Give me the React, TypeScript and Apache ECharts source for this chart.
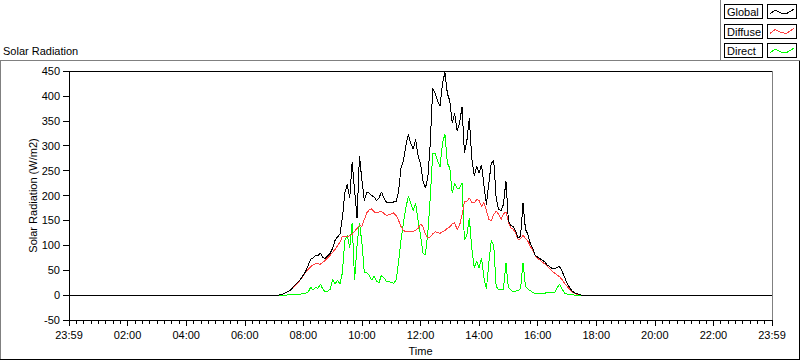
import React, { useEffect, useRef } from "react";
import * as echarts from "echarts";

const FONT = "'Liberation Sans', Arial, sans-serif";

// time axis: minutes after 23:59 of the previous day (0 = 23:59, 1440 = 23:59)
const xTickLabels = ["23:59", "02:00", "04:00", "06:00", "08:00", "10:00", "12:00", "14:00", "16:00", "18:00", "20:00", "22:00", "23:59"];
const START_MIN = 420; // 07:00
const STEP_MIN = 5;

// W/m2, every 5 minutes from 07:00 to 18:00
const globalValues = [
  0, 0, 0, 1, 3, 5, 8, 11, 17, 22, 27, 33,
  40, 48, 60, 72, 75, 80, 79, 85, 75, 74, 79, 84,
  94, 110, 117, 122, 155, 205, 222, 195, 268, 210, 155, 280,
  230, 190, 207, 205, 200, 197, 190, 195, 207, 195, 187, 186,
  185, 187, 188, 207, 255, 270, 300, 323, 305, 293, 313, 280,
  265, 230, 215, 235, 305, 415, 405, 390, 380, 425, 447, 405,
  390, 345, 365, 330, 345, 378, 285, 310, 355, 275, 240, 258,
  245, 262, 220, 182, 225, 265, 270, 195, 172, 170, 182, 230,
  150, 140, 137, 128, 115, 118, 185, 132, 122, 103, 94, 80,
  76, 73, 70, 66, 60, 57, 53, 53, 56, 57, 48, 36,
  24, 16, 9, 5, 3, 1, 0, 0, 0, 0, 0, 0, 0,
];

const diffuseValues = [
  0, 0, 0, 1, 3, 5, 8, 11, 16, 21, 26, 32,
  39, 46, 52, 57, 61, 63, 63, 62, 66, 70, 75, 80,
  86, 92, 99, 106, 118, 118, 117, 119, 122, 128, 134, 140,
  138, 152, 165, 171, 173, 167, 166, 167, 168, 164, 160, 161,
  163, 165, 160, 150, 138, 130, 127, 127, 127, 128, 130, 134,
  143, 138, 122, 115, 117, 123, 127, 126, 124, 127, 130, 134,
  137, 143, 145, 132, 140, 160, 188, 188, 195, 186, 185, 192,
  190, 178, 186, 170, 152, 150, 162, 168, 163, 152, 163, 167,
  147, 135, 132, 124, 112, 113, 120, 114, 108, 98, 90, 79,
  74, 70, 66, 62, 57, 53, 48, 44, 40, 37, 31, 24,
  18, 12, 7, 4, 2, 1, 0, 0, 0, 0, 0, 0, 0,
];

const directValues = [
  0, 0, 0, 0, 0, 0, 1, 1, 1, 1, 1, 2,
  3, 4, 6, 16, 10, 15, 14, 22, 12, 7, 8, 12,
  32, 22, 30, 22, 45, 110, 120, 95, 145, 30, 100, 145,
  105, 45, 45, 40, 30, 38, 28, 25, 40, 35, 28, 27,
  25, 24, 30, 65, 110, 145, 175, 198, 185, 170, 185, 150,
  120, 85, 80, 125, 195, 285, 285, 270, 258, 305, 323, 265,
  255, 205, 225, 215, 215, 225, 110, 120, 155, 95, 55, 68,
  55, 75, 35, 12, 65, 110, 100, 18, 10, 12, 12, 65,
  15, 10, 7, 8, 9, 14, 65, 18, 12, 9, 5, 3,
  3, 3, 4, 4, 5, 5, 5, 6, 15, 22, 12, 4,
  2, 1, 1, 0, 0, 0, 0, 0, 0, 0, 0, 0, 0,
];

const seriesNames = ["Global", "Diffuse", "Direct"];
const seriesColors = ["#000000", "#ff4040", "#00ff00"];

function toPoints(values: number[]): number[][] {
  const pts: number[][] = [[0, 0]];
  values.forEach((v, i) => pts.push([START_MIN + i * STEP_MIN, v]));
  pts.push([1440, 0]);
  return pts;
}

export default function App() {
  const ref = useRef<HTMLDivElement>(null);

  useEffect(() => {
    if (!ref.current) return;
    const chart = echarts.init(ref.current, undefined, { renderer: "svg" });

    const legendGraphics: any[] = [];
    seriesNames.forEach((name, i) => {
      const top = 4 + i * 19.5;
      legendGraphics.push({
        type: "rect",
        shape: { x: 724.5, y: top + 0.5, width: 38, height: 14 },
        style: { fill: "#fff", stroke: "#000", lineWidth: 1 },
      });
      legendGraphics.push({
        type: "text",
        x: 727,
        y: top + 8,
        style: { text: name, fill: "#000", font: `11px ${FONT}`, verticalAlign: "middle", textVerticalAlign: "middle" },
      });
      legendGraphics.push({
        type: "rect",
        shape: { x: 767.5, y: top + 0.5, width: 29, height: 14 },
        style: { fill: "#fff", stroke: "#000", lineWidth: 1 },
      });
      legendGraphics.push({
        type: "polyline",
        shape: {
          points: [
            [770, top + 10],
            [775, top + 6],
            [781, top + 9],
            [786, top + 10],
            [794, top + 5],
          ],
        },
        style: { stroke: seriesColors[i], lineWidth: 1, fill: "none" },
      });
    });

    const option: any = {
      animation: false,
      backgroundColor: "#ffffff",
      textStyle: { fontFamily: FONT, fontSize: 11, color: "#000" },
      title: {
        text: "Solar Radiation",
        left: 3,
        top: 45,
        padding: 0,
        textStyle: { fontSize: 11, fontWeight: "normal", color: "#000", fontFamily: FONT },
      },
      grid: {
        left: 69,
        top: 71,
        width: 703,
        height: 251,
        show: true,
        borderColor: "#808080",
        borderWidth: 1,
        backgroundColor: "#ffffff",
      },
      xAxis: [
        {
          type: "value",
          min: 0,
          max: 1440,
          interval: 120,
          axisLine: { show: true, onZero: false, lineStyle: { color: "#000", width: 1 } },
          axisTick: { show: true, length: 6, lineStyle: { color: "#000" } },
          minorTick: { show: true, splitNumber: 8, length: 4, lineStyle: { color: "#000" } },
          splitLine: { show: false },
          minorSplitLine: { show: false },
          axisLabel: {
            margin: 9,
            color: "#000",
            fontSize: 11,
            fontFamily: FONT,
            formatter: (v: number) => xTickLabels[Math.round(v / 120)] ?? "",
          },
          name: "Time",
          nameLocation: "middle",
          nameGap: 25,
          nameMoveOverlap: false,
          nameTextStyle: { color: "#000", fontSize: 11, fontFamily: FONT },
        },
        {
          type: "value",
          position: "top",
          min: 0,
          max: 1440,
          axisLine: { show: true, onZero: false, lineStyle: { color: "#000", width: 1 } },
          axisTick: { show: false },
          axisLabel: { show: false },
          splitLine: { show: false },
        },
      ],
      yAxis: {
        type: "value",
        min: -50,
        max: 450,
        interval: 50,
        axisLine: { show: true, onZero: false, lineStyle: { color: "#000", width: 1 } },
        axisTick: { show: true, length: 6, lineStyle: { color: "#000" } },
        splitLine: { show: false },
        axisLabel: { margin: 9, color: "#000", fontSize: 11, fontFamily: FONT },
        name: "Solar Radiation (W/m2)",
        nameLocation: "middle",
        nameGap: 31,
        nameMoveOverlap: false,
        nameTextStyle: { color: "#000", fontSize: 11, fontFamily: FONT },
      },
      series: [
        { name: "Global", values: globalValues, z: 4 },
        { name: "Diffuse", values: diffuseValues, z: 3 },
        { name: "Direct", values: directValues, z: 2 },
      ].map((s, i) => ({
        name: s.name,
        type: "line",
        xAxisIndex: 0,
        data: toPoints(s.values),
        showSymbol: false,
        symbol: "none",
        z: s.z,
        lineStyle: { color: seriesColors[i], width: 1 },
        itemStyle: { color: seriesColors[i] },
      })),
      graphic: [
        // panel frame
        { type: "line", shape: { x1: 0, y1: 60.5, x2: 800, y2: 60.5 }, style: { stroke: "#808080", lineWidth: 1 } },
        { type: "line", shape: { x1: 0.5, y1: 60.5, x2: 0.5, y2: 360 }, style: { stroke: "#808080", lineWidth: 1 } },
        { type: "line", shape: { x1: 799.5, y1: 61, x2: 799.5, y2: 360 }, style: { stroke: "#000", lineWidth: 1 } },
        { type: "line", shape: { x1: 0, y1: 359.5, x2: 800, y2: 359.5 }, style: { stroke: "#000", lineWidth: 1 } },
        // legend panel
        { type: "line", shape: { x1: 720.5, y1: 0, x2: 720.5, y2: 61 }, style: { stroke: "#808080", lineWidth: 1 } },
        ...legendGraphics,
      ],
    };

    chart.setOption(option);
    // LabVIEW-style aliased strokes
    ref.current.querySelectorAll("path").forEach((p) => p.setAttribute("shape-rendering", "crispEdges"));
    return () => chart.dispose();
  }, []);

  return (
    <div
      ref={ref}
      style={{ position: "fixed", left: 0, top: 0, width: 800, height: 361, background: "#fff" }}
    />
  );
}
